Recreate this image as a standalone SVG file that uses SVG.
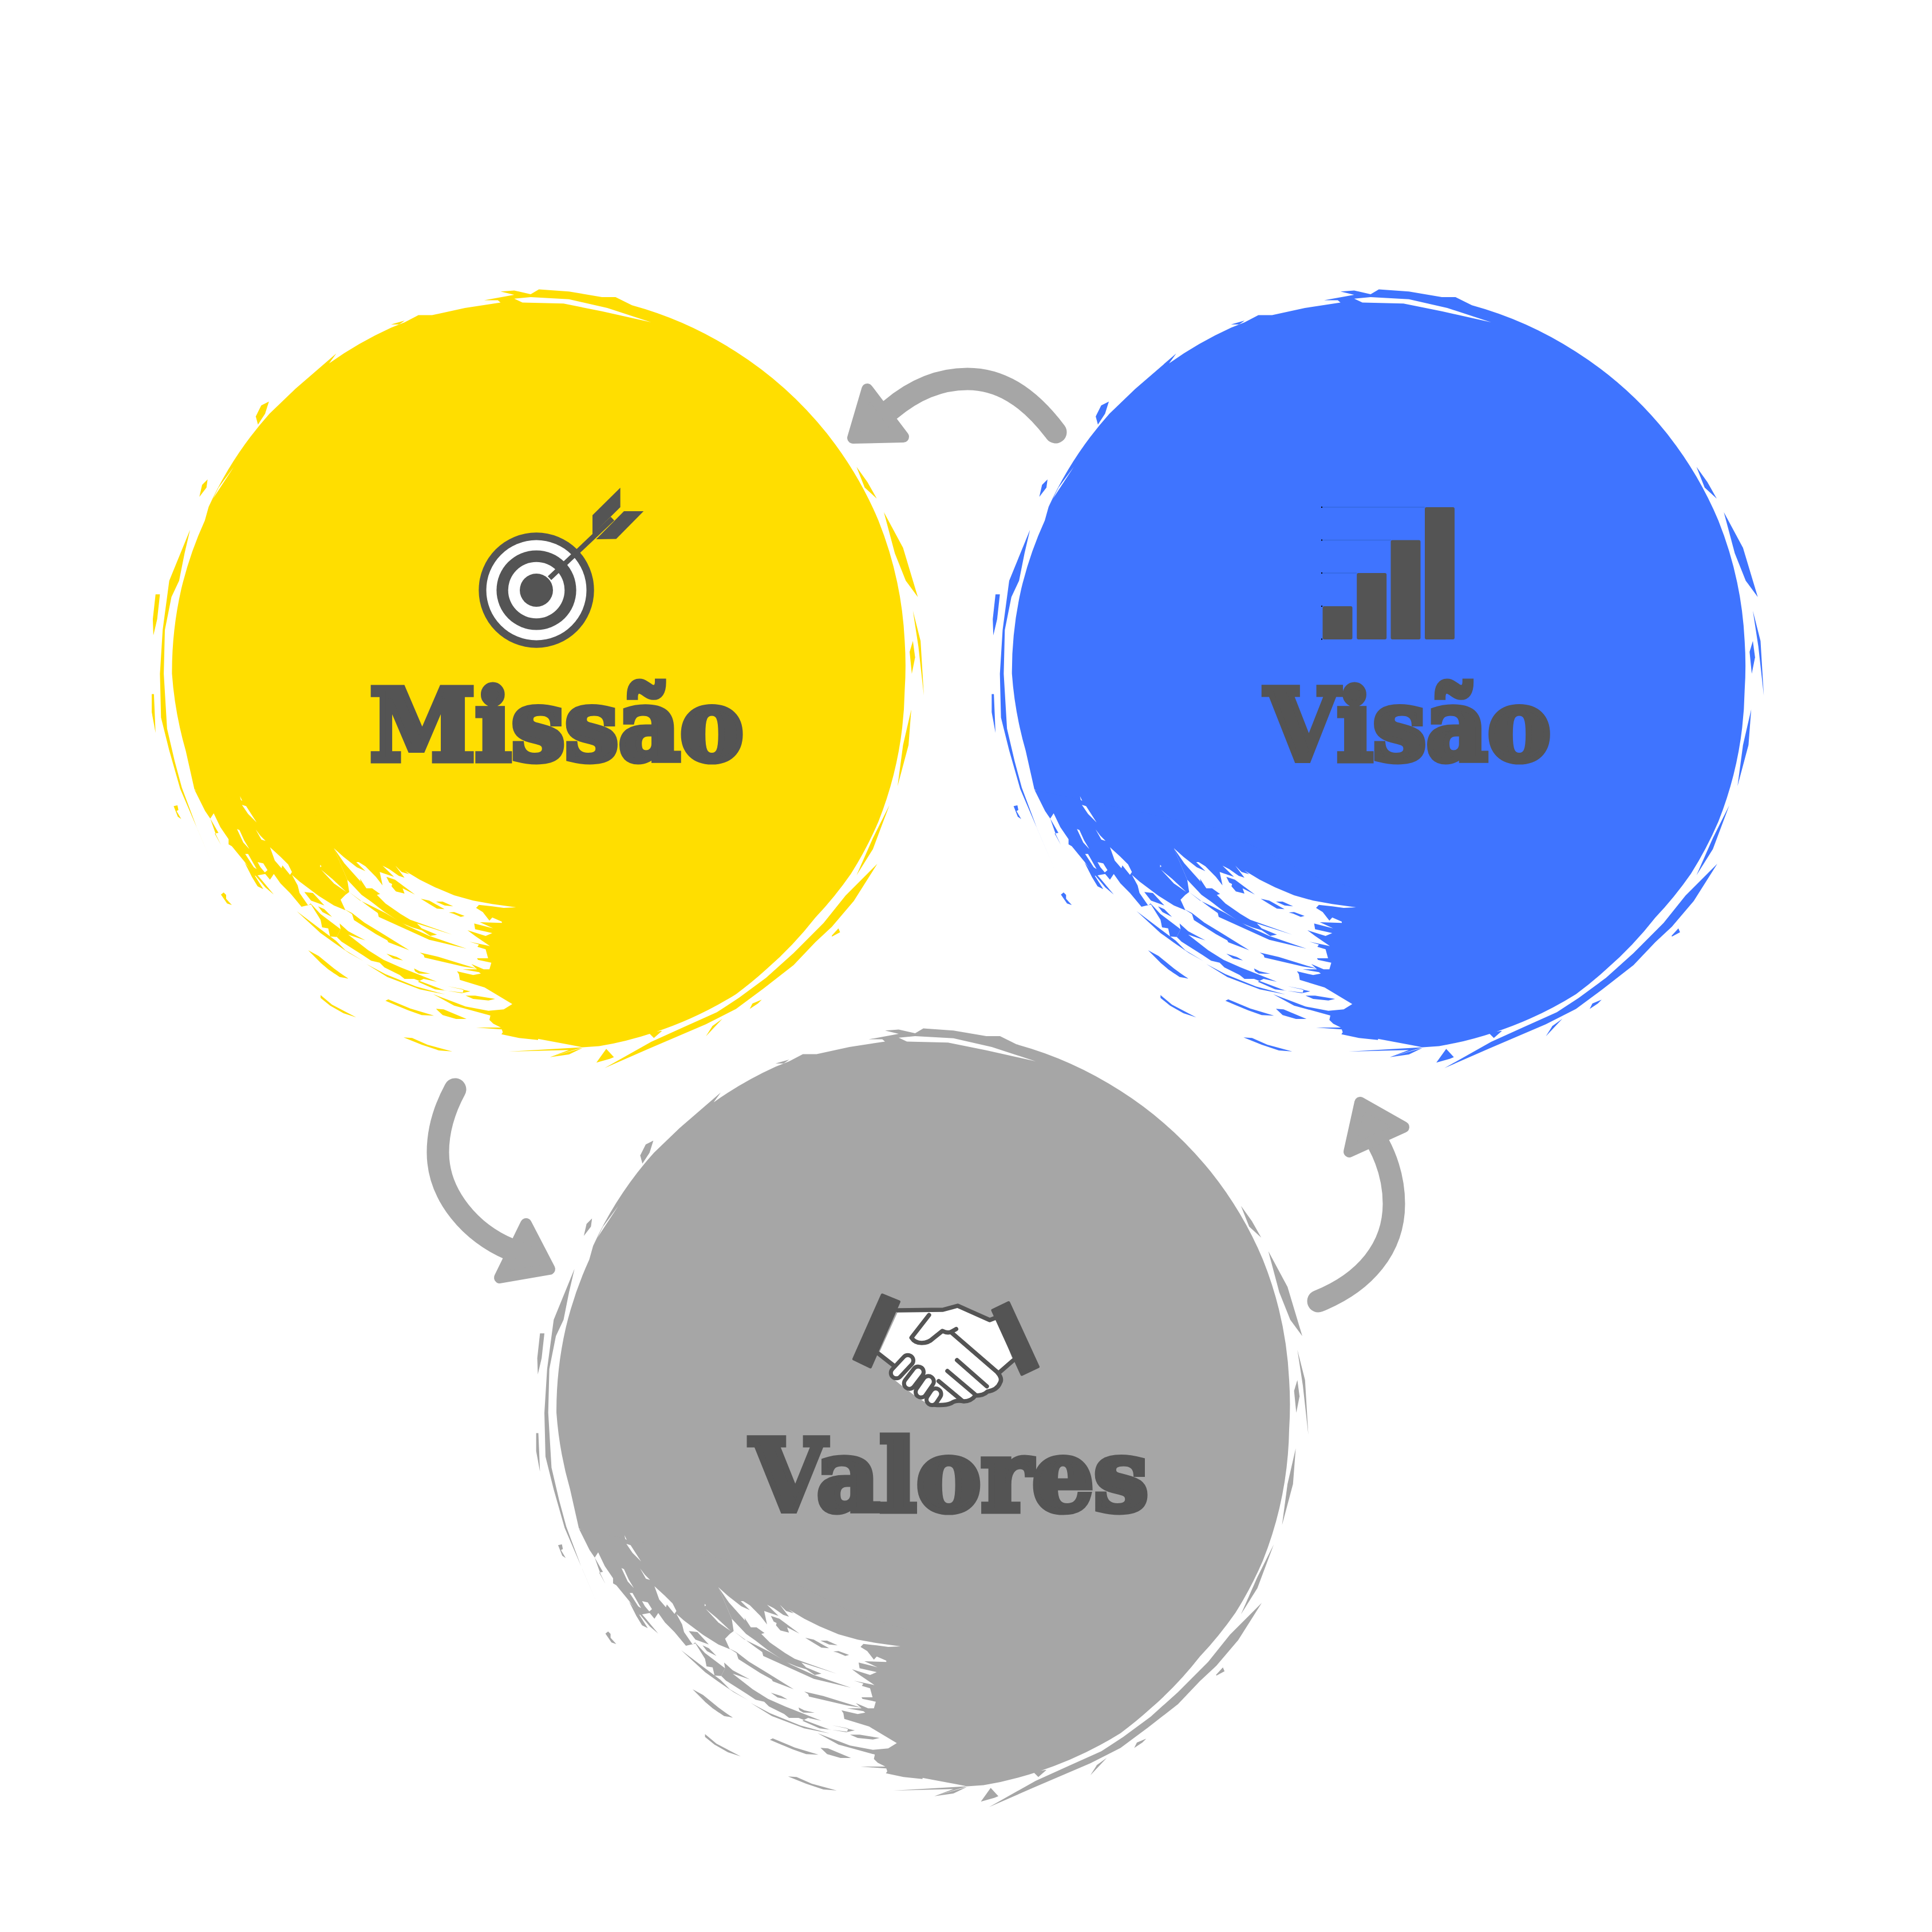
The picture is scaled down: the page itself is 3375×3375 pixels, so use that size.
<svg xmlns="http://www.w3.org/2000/svg" xmlns:xlink="http://www.w3.org/1999/xlink" width="3375" height="3375" viewBox="0 0 3375 3375">
<style>
.lbl{font-family:"DejaVu Serif","Liberation Serif",serif;font-weight:700;fill:#545454;stroke:#545454;stroke-width:11;stroke-linejoin:miter;font-size:172px}
.dk{fill:#545454}
.w{fill:#fff}
.arrow{fill:none;stroke:#a6a6a6;stroke-width:39;stroke-linecap:round}
.head{fill:#a6a6a6;stroke:#a6a6a6;stroke-width:20;stroke-linejoin:round}
.ln{fill:none;stroke:#545454;stroke-width:7.5;stroke-linecap:round;stroke-linejoin:round}
.kn{fill:none;stroke:#545454;stroke-width:26;stroke-linecap:round}
.kw{fill:none;stroke:#fff;stroke-width:12;stroke-linecap:round}
</style>
<defs>
<g id="brush">
<g transform="translate(200,450) scale(.95663)">
<path d="M105,760 A680 680 0 0 1 122,605 A680 680 0 0 1 165,480 L172,455 A680 680 0 0 1 283,285 L330,240 L405,175 L392,193 A680 680 0 0 1 505,128 L530,118 L555,105 L580,105 L640,92 L705,82 L700,78 L675,78 L730,68 L705,62 L730,60 L760,67 L775,58 L830,62 L890,72 L915,72 L945,87 A680 680 0 0 1 1135,172 A680 680 0 0 1 1300,320 A680 680 0 0 1 1395,480 A680 680 0 0 1 1443,700 A680 680 0 0 1 1443,790 A680 680 0 0 1 1395,1030 A680 680 0 0 1 1345,1125 A680 680 0 0 1 1280,1205 A680 680 0 0 1 1190,1300 A680 680 0 0 1 1135,1345 A680 680 0 0 1 985,1415 A680 680 0 0 1 885,1440 L855,1442 L835,1438 L765,1425 L760,1170 L530,1105 L400,1065 L280,1060 L200,1000 L146,971 L130,900 A680 680 0 0 1 105,760Z"/>
<polygon points="138,497 128,540 118,590 104,620 92,680 90,760 96,860 110,920 123,968 150,1040 182,1115 120,970 100,900 85,840 83,760 88,680 100,590"/>
<polygon points="75,615 83,615 78,660 71,690 70,660"/>
<polygon points="68,797 72,797 75,868 68,830"/>
<polygon points="155,437 160,415 170,405 168,420"/>
<polygon points="258,290 268,270 282,263 275,285 262,305"/>
<polygon points="505,122 530,115 520,122"/>
<polygon points="1355,382 1375,410 1392,440 1370,420"/>
<polygon points="1405,465 1440,530 1467,620 1445,590 1425,540"/>
<polygon points="1458,645 1472,700 1478,800 1468,710"/>
<polygon points="1452,720 1458,700 1462,730 1456,760"/>
<polygon points="1455,825 1450,890 1430,965 1440,890"/>
<polygon points="1415,1000 1385,1080 1355,1128 1385,1060"/>
<polygon points="1393,1107 1350,1175 1310,1222 1280,1250 1240,1292 1185,1335 1135,1372 1080,1400 975,1445 895,1480 980,1432 1040,1405 1100,1378 1140,1352 1190,1315 1240,1270 1295,1215 1335,1165"/>
<polygon points="1110,1390 1080,1422 1092,1403"/>
<polygon points="1310,1238 1322,1225 1325,1232 1310,1240"/>
<polygon points="1165,1362 1182,1355 1175,1362 1160,1372"/>
<polygon points="880,1470 898,1445 912,1460 905,1463"/>
<polygon points="720,1450 855,1442 795,1460 855,1443 830,1455 795,1460 830,1447"/>
<polygon points="975,1415 1000,1412 985,1425"/>
<polygon class="w" points="730,75 760,72 830,76 900,92 980,118 890,98 820,84 745,82"/>
<polygon class="w" points="218,382 190,420 165,470 180,440"/>
</g>
<g transform="translate(560,1480) scale(.33333)">
<polygon points="-660,-300 -605,-190 -578,-150 -560,-178 -525,-105 -482,-42 -482,-15 -465,-5 -395,80 -345,150 -290,140 -265,170 -245,140 -210,190 -160,240 -100,312 -50,300 0,380 8,420 40,425 50,468 85,470 105,430 0,350 -52,295 -65,305 -110,240 -120,200 -150,145 -110,180 -10,255 70,305 130,330 105,275 130,250 150,235 140,170 70,5 120,50 190,105 235,125 187,78 200,78 235,100 290,155 325,200 310,130 385,155 325,97 360,115 410,150 440,160 392,97 425,130 465,142 440,122 520,170 600,210 700,252 800,280 900,298 1025,315 960,318 900,310 830,302 815,318 850,340 885,385 900,368 950,390 950,397 835,393 905,425 805,400 810,430 900,450 865,465 770,435 810,465 888,518 780,495 830,510 822,522 865,535 878,582 820,582 825,590 895,605 885,640 855,640 790,612 820,640 745,640 830,655 840,662 800,670 715,650 725,665 730,695 860,735 1005,822 960,850 880,857 760,835 590,770 700,830 890,882 885,905 905,925 945,945 815,945 950,955 955,970 948,980 1040,1000 1140,1010 1140,250 800,150 300,-100"/>
<polygon points="70,5 125,85 210,180 207,165 240,215 270,215 312,245 295,250 340,295 420,350 470,380 690,458 505,400 530,425 610,458 575,465 530,435 480,420 420,395 330,335 265,285 215,250 140,170"/>
<polygon points="150,235 205,278 270,310 340,345 450,410 570,465 765,532 570,485 305,365 300,345 265,320"/>
<polygon points="125,325 165,345 230,395 320,450 465,540 355,498 350,488 290,455 175,382 165,350"/>
<polygon points="345,155 390,170 495,248 430,215 440,243 395,232 372,205 375,193 360,185"/>
<polygon points="100,400 145,440 235,488 145,458 250,540 330,590 420,630 610,705 540,690 510,705 600,745 745,762 750,745 665,728 785,755 740,765 650,750 490,690 470,690 440,690 415,670 335,630 310,605 265,595 220,565 110,495 85,470 105,430"/>
<polygon points="-125,335 0,430 80,490 130,540 225,597 150,555 70,500 0,450"/>
<polygon points="240,612 340,665 500,730 655,772 520,745 350,680"/>
<polygon points="345,558 400,575 432,593 380,583"/>
<polygon points="490,635 520,650 575,663 515,662 495,650"/>
<polygon points="520,552 620,575 700,600 820,637 745,625 545,578 540,565"/>
<polygon points="525,270 570,280 650,325 610,322 570,298"/>
<polygon points="605,285 640,285 695,310 650,305"/>
<polygon points="672,342 700,340 755,360 735,365 695,348"/>
<polygon points="760,778 810,778 915,795 880,803 800,795"/>
<polygon points="340,805 355,797 470,845 595,883 530,880 460,855 400,830"/>
<polygon points="605,847 645,850 765,900 710,900 640,880"/>
<polygon points="435,997 480,1000 560,1035 690,1070 620,1065 530,1035"/>
<polygon points="0,590 70,640 145,688 100,680 40,640 0,605"/>
<polygon points="0,775 60,825 187,892 120,870 50,830 0,790"/>
<polygon points="-85,235 -40,240 20,305 -50,280"/>
<polygon points="-13,310 20,325 60,365 10,340"/>
</g>
<g transform="translate(290,1380) scale(.33333)">
<polygon points="40,85 60,80 65,105 55,110 80,152 62,140"/>
<polygon points="288,548 302,537 315,550 315,570 345,603 320,595"/>
<polygon points="232,150 275,225 255,228 288,288 262,235"/>
<polygon points="745,840 800,870 880,935 955,990 880,960 810,905"/>
<polygon points="412,380 450,425 510,520 480,505 450,455"/>
<polygon points="465,430 500,470 565,548 520,510 470,450"/>
<polygon class="w" points="388,32 400,58 392,52"/>
<polygon class="w" points="398,78 420,85 475,170 430,125"/>
<polygon class="w" points="372,205 385,210 410,265 437,310 405,275"/>
<polygon class="w" points="470,207 495,240 522,267 500,260"/>
<polygon class="w" points="545,300 600,350 640,390 660,430 650,445 610,395 605,410 570,370"/>
<polygon class="w" points="813,418 870,465 945,535 880,490"/>
<polygon class="w" points="808,392 815,400 808,405"/>
<polygon class="w" points="415,335 430,335 475,415 460,405"/>
<polygon class="w" points="480,378 510,385 532,420 518,432 495,405"/>
</g>
</g>
</defs>
<rect width="3375" height="3375" fill="#fff"/>
<g id="node-missao">
<use xlink:href="#brush" href="#brush" fill="#ffde00"/>
<g id="icon-target">
<circle class="dk" cx="937" cy="1031" r="100.7"/>
<circle class="w" cx="937" cy="1031" r="87.5"/>
<circle class="dk" cx="937" cy="1031" r="69.6"/>
<circle class="w" cx="937" cy="1031" r="49.3"/>
<circle class="dk" cx="937" cy="1031" r="29"/>
<line x1="960" y1="1010" x2="1070" y2="906" stroke="#545454" stroke-width="9"/>
<polygon class="dk" points="1083.6,852 1083.6,886 1035,934 1035,900"/>
<polygon class="dk" points="1090,893 1124.3,893 1076.4,941.4 1041.4,942"/>
</g>
<text class="lbl" x="646" y="1327.5" textLength="653" lengthAdjust="spacingAndGlyphs">Missão</text>
</g>
<g id="node-visao">
<use xlink:href="#brush" href="#brush" x="1467.3" fill="#3f74ff"/>
<g id="icon-chart">
<g stroke="#3568e0" stroke-width="1.5"><line x1="2309" y1="886" x2="2489" y2="886"/><line x1="2309" y1="943.5" x2="2430" y2="943.5"/><line x1="2309" y1="1001" x2="2370" y2="1001"/><line x1="2309" y1="1058.5" x2="2311" y2="1058.5"/></g>
<g fill="#000"><rect x="2308" y="885" width="2" height="2"/><rect x="2308" y="942.5" width="2" height="2"/><rect x="2308" y="1000" width="2" height="2"/><rect x="2308" y="1058" width="2" height="2"/><rect x="2308" y="1115.5" width="2" height="2"/></g>
<rect class="dk" x="2310.5" y="1059" width="52" height="58" rx="3"/>
<rect class="dk" x="2370.2" y="1001" width="52" height="116" rx="3"/>
<rect class="dk" x="2429.5" y="943.5" width="52" height="173.5" rx="3"/>
<rect class="dk" x="2489" y="886" width="52" height="231" rx="3"/>
</g>
<text class="lbl" x="2210" y="1327.5" textLength="499" lengthAdjust="spacingAndGlyphs">Visão</text>
</g>
<g id="node-valores">
<use xlink:href="#brush" href="#brush" x="671.6" y="1291" fill="#a6a6a6"/>
<g id="icon-handshake">
<polygon class="w" points="1568.3,2291.7 1647.3,2290 1672.9,2283.3 1729,2308.3 1741.7,2303.3 1769.8,2376.7 1746.8,2396.7 1752,2410 1741.7,2426.7 1723.9,2431.7 1706,2438.3 1688.2,2448.3 1670.3,2446.7 1655,2453.3 1632,2455 1616.7,2450 1596.3,2436.7 1578.5,2423.3 1558,2406.7 1555.5,2393.3 1560.6,2383.3 1535.1,2365"/>
<polyline class="ln" points="1568.3,2289 1647.3,2288 1672.9,2281 1729,2306 1741.7,2301"/>
<polyline class="ln" points="1535.1,2365 1560.6,2385"/>
<polyline class="ln" points="1769.8,2376.7 1746.8,2396.7"/>
<path class="ln" d="M1622.9,2297.3 L1592.2,2336.7 Q1598,2346 1610,2346 Q1622,2346 1630,2338 L1646.3,2325 Q1656,2330 1662.7,2326 L1670.3,2321.7"/>
<path class="ln" d="M1662.7,2328.3 L1741.7,2396.7 Q1752,2408 1746.8,2416 Q1742,2428 1725,2431 Q1718,2438 1704,2438 Q1696,2448 1684,2448 Q1670,2445 1662,2451 Q1650,2456 1632,2454"/>
<line class="ln" x1="1671.8" y1="2376" x2="1723.9" y2="2421.7"/>
<line class="ln" x1="1655" y1="2395" x2="1703.5" y2="2436"/>
<line class="ln" x1="1639.7" y1="2412.7" x2="1680.5" y2="2446.7"/>
<line class="kn" x1="1586" y1="2376.7" x2="1565.7" y2="2398.3"/>
<line class="kn" x1="1604" y1="2396.7" x2="1588.7" y2="2416.7"/>
<line class="kn" x1="1621.8" y1="2413.3" x2="1609" y2="2431.7"/>
<line class="kn" x1="1634.6" y1="2435" x2="1628" y2="2445"/>
<line class="kw" x1="1586" y1="2376.7" x2="1565.7" y2="2398.3"/>
<line class="kw" x1="1604" y1="2396.7" x2="1588.7" y2="2416.7"/>
<line class="kw" x1="1621.8" y1="2413.3" x2="1609" y2="2431.7"/>
<line class="kw" x1="1634.6" y1="2435" x2="1628" y2="2445"/>
<polygon class="dk" stroke="#545454" stroke-width="5" stroke-linejoin="round" points="1541.2,2262 1570.5,2274 1520.5,2388 1491.5,2374"/>
<polygon class="dk" stroke="#545454" stroke-width="5" stroke-linejoin="round" points="1762,2275.5 1734,2289 1785,2401 1813.5,2387.5"/>
</g>
<text class="lbl" x="1311" y="2638.5" textLength="695" lengthAdjust="spacingAndGlyphs">Valores</text>
</g>
<g id="connectors">
<path class="arrow" d="M1844,755 C1795,690 1745,662 1690,662 C1640,662 1595,682 1555,716"/>
<polygon class="head" points="1515,680 1490,765 1578,763"/>
<path class="arrow" d="M795,1903 C775,1940 765,1975 765,2013 C765,2090 825,2155 890,2182"/>
<polygon class="head" points="919,2138 960,2217 873,2232"/>
<path class="arrow" d="M2303,2273 C2385,2240 2435,2180 2435,2103 C2435,2065 2425,2030 2408,1998"/>
<polygon class="head" points="2376,1926 2452,1969 2357,2012"/>
</g>
</svg>
